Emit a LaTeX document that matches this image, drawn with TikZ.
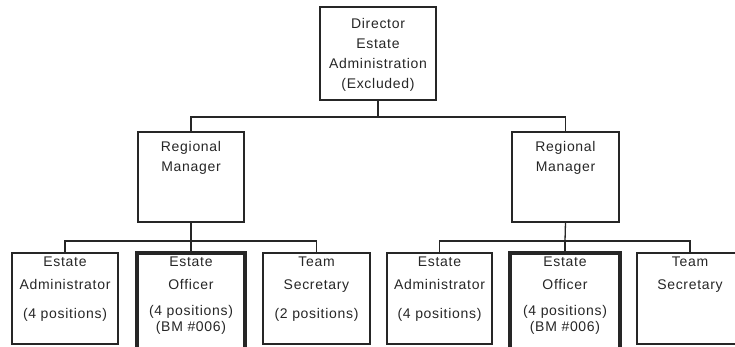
\documentclass[tikz,border=0pt]{standalone}
\usepackage{fontspec}
\setmainfont{Liberation Sans}[LetterSpace=5]
\begin{document}
\begin{tikzpicture}[x=1pt,y=-1pt,
  box/.style={draw=black!85,line width=1.4pt,rectangle,inner sep=0pt,outer sep=0pt},
  thickbox/.style={box,line width=3.2pt},
  txt/.style={inner sep=0pt,outer sep=0pt,align=center,text=black!85,font=\fontsize{14}{20}\selectfont},
  btxt/.style={txt,font=\fontsize{14}{23}\selectfont},
  conn/.style={draw=black!85,line width=1.3pt}]
\useasboundingbox (0,0) rectangle (735,347);
% boxes
\node[box,minimum width=116pt,minimum height=93pt] (dir) at (378,53.5) {};
\node[box,minimum width=106pt,minimum height=90pt] (rm1) at (191,177) {};
\node[box,minimum width=107pt,minimum height=90pt] (rm2) at (565.5,177) {};
\node[box,minimum width=106pt,minimum height=91pt] (ea1) at (65,298.5) {};
\node[thickbox,minimum width=108pt,minimum height=96pt] (eo1) at (191,301) {};
\node[box,minimum width=107pt,minimum height=91pt] (ts1) at (316.5,298.5) {};
\node[box,minimum width=105pt,minimum height=91pt] (ea2) at (439.5,298.5) {};
\node[thickbox,minimum width=110pt,minimum height=96pt] (eo2) at (565,301) {};
\node[box,minimum width=106pt,minimum height=91pt] (ts2) at (690,298.5) {};
% texts
\node[txt,anchor=north] (tdir) at ([yshift=-11pt]dir.north) {Director\\Estate\\Administration\\(Excluded)};
\node[txt,anchor=north] (trm1) at ([yshift=-9pt]rm1.north) {Regional\\Manager};
\node[txt,anchor=north] (trm2) at ([yshift=-9pt]rm2.north) {Regional\\Manager};
\node[btxt,anchor=north] (tea1) at ([yshift=-3.5pt]ea1.north) {Estate\\Administrator\\[6pt](4 positions)};
\node[btxt,anchor=north] (teo1) at ([yshift=-3.5pt]eo1.north) {Estate\\Officer\\[3pt](4 positions)\\[-7pt](BM \#006)};
\node[btxt,anchor=north] (tts1) at ([yshift=-3.5pt]ts1.north) {Team\\Secretary\\[6pt](2 positions)};
\node[btxt,anchor=north] (tea2) at ([yshift=-3.5pt]ea2.north) {Estate\\Administrator\\[6pt](4 positions)};
\node[btxt,anchor=north] (teo2) at ([yshift=-3.5pt]eo2.north) {Estate\\Officer\\[3pt](4 positions)\\[-7pt](BM \#006)};
\node[btxt,anchor=north] (tts2) at ([yshift=-3.5pt]ts2.north) {Team\\Secretary};
% connectors
\coordinate (b0) at (378,117);
\coordinate (b1) at (191,241);
\coordinate (b2) at (565,241);
\draw[conn] (dir.south) -- (b0);
\draw[conn] (rm1.north) |- (b0) -| (rm2.north);
\draw[conn] (rm1.south) -- (b1);
\draw[conn] (ea1.north) |- (b1) -| (ts1.north);
\draw[conn] (b1) -- (eo1.north);
\draw[conn] (rm2.south) -- (b2);
\draw[conn] (ea2.north) |- (b2) -| (ts2.north);
\draw[conn] (b2) -- (eo2.north);
\end{tikzpicture}
\end{document}
